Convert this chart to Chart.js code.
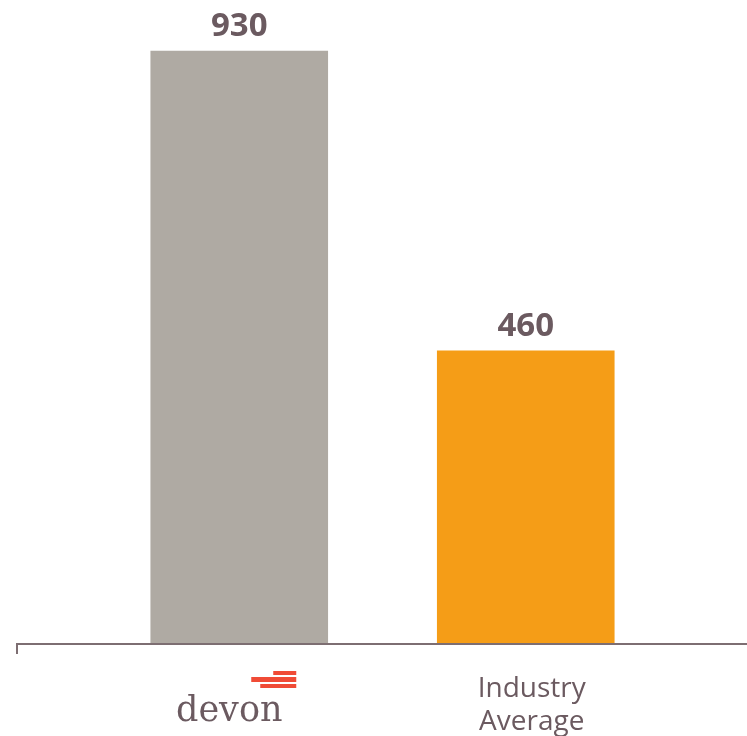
<!DOCTYPE html>
<html>
<head>
<meta charset="utf-8">
<script src="https://cdn.jsdelivr.net/npm/chart.js@4"></script>
<style>
  html, body { margin: 0; padding: 0; background: #fff; }
  #wrap { width: 747px; height: 736px; }
</style>
</head>
<body>
<div id="wrap"><canvas id="chart" width="747" height="736"></canvas></div>
<script>
// chart data
const categories = ["devon", "Industry Average"];
const values = [930, 460];
const barColors = ["#afaaa3", "#f59d17"];
const textColor = "#6b5a60";

// axis baseline, value labels and x labels (devon logo + text)
const decorPlugin = {
  id: "decor",
  afterDatasetsDraw(chart) {
    const ctx = chart.ctx;
    const x = chart.scales.x;
    const y = chart.scales.y;
    const base = y.getPixelForValue(0);

    ctx.save();
    // baseline
    ctx.strokeStyle = "#7d6e72";
    ctx.lineWidth = 2;
    ctx.beginPath();
    ctx.moveTo(17, base);
    ctx.lineTo(chart.width, base);
    ctx.moveTo(17, base - 1);
    ctx.lineTo(17, base + 10);
    ctx.stroke();

    // value labels
    ctx.fillStyle = textColor;
    ctx.font = "bold 33px 'Open Sans'";
    ctx.textAlign = "center";
    ctx.textBaseline = "alphabetic";
    values.forEach((v, i) => {
      ctx.fillText(String(v), x.getPixelForValue(i), y.getPixelForValue(v) - 15);
    });

    // devon logo
    const cx0 = x.getPixelForValue(0);
    ctx.fillStyle = "#f04b36";
    ctx.fillRect(cx0 + 34, 671, 23, 4);
    ctx.fillRect(cx0 + 12, 677, 45, 5);
    ctx.fillRect(cx0 + 21, 684, 36, 4);
    ctx.fillStyle = textColor;
    ctx.font = "35px 'DejaVu Serif'";
    ctx.textAlign = "center";
    ctx.fillText(categories[0], cx0 - 10, 721);

    // Industry Average
    const cx1 = x.getPixelForValue(1);
    ctx.font = "28px 'Open Sans'";
    ctx.fillText("Industry", cx1 + 6, 697);
    ctx.fillText("Average", cx1 + 6, 730);
    ctx.restore();
  }
};

new Chart(document.getElementById("chart").getContext("2d"), {
  type: "bar",
  data: {
    labels: categories,
    datasets: [{
      data: values,
      backgroundColor: barColors,
      borderWidth: 0,
      categoryPercentage: 1,
      barPercentage: 0.62
    }]
  },
  options: {
    responsive: false,
    animation: false,
    layout: { padding: { left: 96, right: 78, top: 6, bottom: 92 } },
    plugins: { legend: { display: false }, tooltip: { enabled: false } },
    scales: {
      x: { display: false },
      y: { display: false, min: 0, max: 1000 }
    }
  },
  plugins: [decorPlugin]
});
</script>
</body>
</html>
